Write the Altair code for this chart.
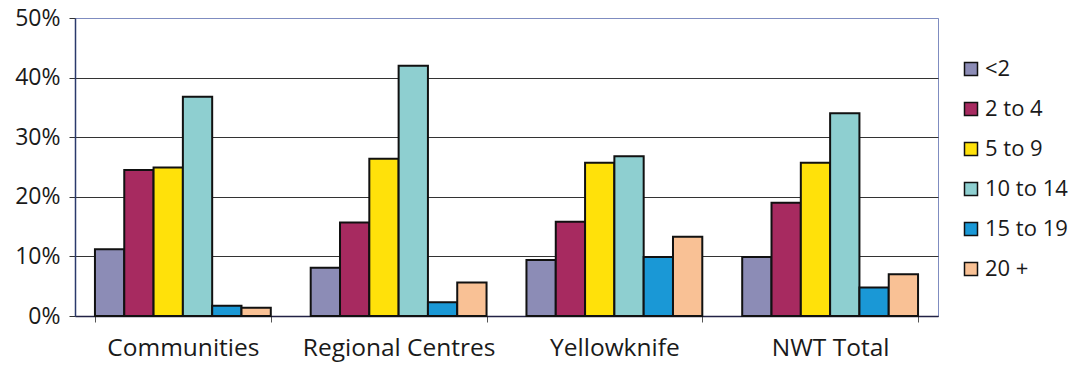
import altair as alt
import pandas as pd

# Share of households by size of dwelling age group, per region
regions = ["Communities", "Regional Centres", "Yellowknife", "NWT Total"]
groups = ["<2", "2 to 4", "5 to 9", "10 to 14", "15 to 19", "20 +"]
colors = ["#8c8cb6", "#a72a60", "#ffe10a", "#8ecfd0", "#1a98d6", "#f9c195"]

communities = [0.112, 0.245, 0.249, 0.368, 0.017, 0.014]
regional_centres = [0.081, 0.157, 0.264, 0.420, 0.023, 0.056]
yellowknife = [0.094, 0.158, 0.257, 0.268, 0.099, 0.133]
nwt_total = [0.099, 0.190, 0.257, 0.340, 0.048, 0.070]

series = [communities, regional_centres, yellowknife, nwt_total]
rows = []
for region, vals in zip(regions, series):
    for g, v in zip(groups, vals):
        rows.append({"region": region, "group": g, "share": v})
df = pd.DataFrame(rows)

FONT = "Open Sans"

chart = alt.Chart(df).mark_bar(stroke="#111111", strokeWidth=2).encode(
    x=alt.X(
        "region:N",
        sort=regions,
        title=None,
        scale=alt.Scale(paddingInner=0.185, paddingOuter=0.0925),
        axis=alt.Axis(
            labelAngle=0,
            labelFontSize=24.5,
            labelFont=FONT,
            labelColor="#1a1a1a",
            labelPadding=14,
            labelLimit=400,
            tickBand="extent",
            tickSize=6,
            tickColor="#555555",
            domainColor="#222244",
            domainWidth=1.5,
            grid=False,
        ),
    ),
    xOffset=alt.XOffset("group:N", sort=groups, scale=alt.Scale(paddingInner=0, paddingOuter=0)),
    y=alt.Y(
        "share:Q",
        title=None,
        scale=alt.Scale(domain=[0, 0.5], nice=False),
        axis=alt.Axis(
            values=[0, 0.1, 0.2, 0.3, 0.4, 0.5],
            format=".0%",
            labelFontSize=23,
            labelFont=FONT,
            labelColor="#1a1a1a",
            labelPadding=9,
            tickSize=6,
            tickColor="#333333",
            domainColor="#2b3a6b",
            domainWidth=1.5,
            grid=True,
            gridColor={"condition": {"test": "datum.value >= 0.5", "value": "#7f8cc0"}, "value": "#333333"},
            gridWidth=1,
        ),
    ),
    color=alt.Color(
        "group:N",
        sort=groups,
        scale=alt.Scale(domain=groups, range=colors),
        legend=alt.Legend(
            title=None,
            orient="none",
            legendX=885,
            legendY=40,
            symbolType="square",
            symbolSize=169,
            symbolStrokeColor="#111111",
            symbolStrokeWidth=1.5,
            labelFontSize=22,
            labelFont=FONT,
            labelColor="#1a1a1a",
            labelOffset=3,
            rowPadding=18,
        ),
    ),
).properties(
    width=863,
    height=298,
    padding={"left": 75, "top": 18, "right": 138, "bottom": 49},
    autosize=alt.AutoSizeParams(type="none"),
).configure_view(
    stroke="#7f8cc0",
    strokeWidth=1,
)

chart.save("out.html", embed_options={"renderer": "svg", "actions": False})
